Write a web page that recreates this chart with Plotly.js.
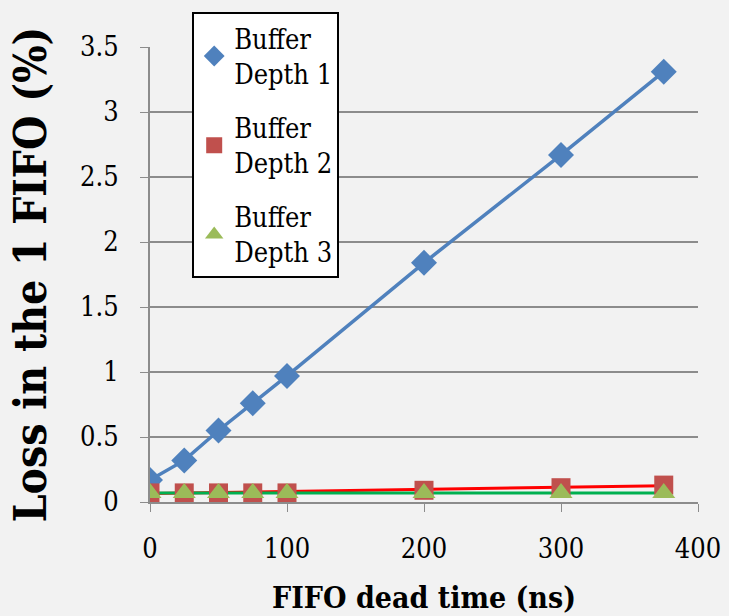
<!DOCTYPE html>
<html><head><meta charset="utf-8">
<script src="https://cdn.plot.ly/plotly-3.0.1.min.js"></script>
<style>body{margin:0;background:#f2f2f2}</style>
</head><body><div id="chart" style="width:729px;height:616px"></div>
<script>
const deadTime = [0, 25, 50, 75, 100, 200, 300, 375];
const depth1 = [0.17, 0.32, 0.55, 0.76, 0.97, 1.84, 2.67, 3.31];
const depth2 = [0.07, 0.07, 0.07, 0.07, 0.07, 0.09, 0.11, 0.13];
const depth3 = [0.07, 0.07, 0.07, 0.07, 0.07, 0.07, 0.07, 0.07];
const trendX = [0, 375];
const trend2 = [0.065, 0.125];
const trend3 = [0.07, 0.07];
const names = ["Buffer<br>Depth 1", "Buffer<br>Depth 2", "Buffer<br>Depth 3"];

const font = "DejaVu Serif Condensed, DejaVu Serif, serif";
const traces = [
  {x: deadTime, y: depth1, mode: 'lines', line: {color: '#4f81bd', width: 3.5}, showlegend: false, hoverinfo: 'skip'},
  {x: trendX, y: trend2, mode: 'lines', line: {color: '#ff0000', width: 3}, showlegend: false, hoverinfo: 'skip'},
  {x: trendX, y: trend3, mode: 'lines', line: {color: '#00b050', width: 3}, showlegend: false, hoverinfo: 'skip'},
  {x: deadTime, y: depth1, name: names[0], legendgroup: 'a', mode: 'markers',
   marker: {symbol: 'diamond', size: 20, color: '#4f81bd'}},
  {x: deadTime, y: depth2, name: names[1], legendgroup: 'b', mode: 'markers',
   marker: {symbol: 'square', size: 19, color: '#c0504d'}},
  {x: deadTime, y: depth3, name: names[2], legendgroup: 'c', mode: 'markers',
   marker: {symbol: 'triangle-up', size: 20, color: '#9bbb59'}}
];
const layout = {
  width: 729, height: 616,
  paper_bgcolor: '#f2f2f2', plot_bgcolor: '#f2f2f2',
  margin: {l: 150, r: 31, t: 41, b: 114},
  font: {family: font, size: 27, color: '#000'},
  showlegend: true,
  legend: {x: 0.077, y: 1.076, xanchor: 'left', yanchor: 'top', bgcolor: '#ffffff',
    bordercolor: '#000', borderwidth: 2, font: {family: font, size: 27},
    tracegroupgap: 16, traceorder: 'grouped', itemwidth: 30},
  xaxis: {range: [0, 400], tickvals: [0, 100, 200, 300, 400], ticks: 'outside', ticklen: 8,
    tickcolor: '#8c8c8c', showgrid: false, zeroline: false, showline: true, linecolor: '#8c8c8c', linewidth: 2,
    tickfont: {family: font, size: 27}, ticklabelstandoff: 14,
    title: {text: '<b>FIFO dead time (ns)</b>', font: {family: font, size: 30}, standoff: 24}},
  yaxis: {range: [0, 3.5], dtick: 0.5, ticks: 'outside', ticklen: 8, tickcolor: '#8c8c8c',
    showgrid: true, gridcolor: '#8c8c8c', gridwidth: 1.5, zeroline: false, showline: true,
    linecolor: '#8c8c8c', linewidth: 2, tickfont: {family: font, size: 27}, ticklabelstandoff: 16,
    title: {text: '<b>Loss in the 1 FIFO (%)</b>', font: {family: font, size: 44}, standoff: 20}}
};
Plotly.newPlot('chart', traces, layout, {displayModeBar: false});
</script></body></html>
